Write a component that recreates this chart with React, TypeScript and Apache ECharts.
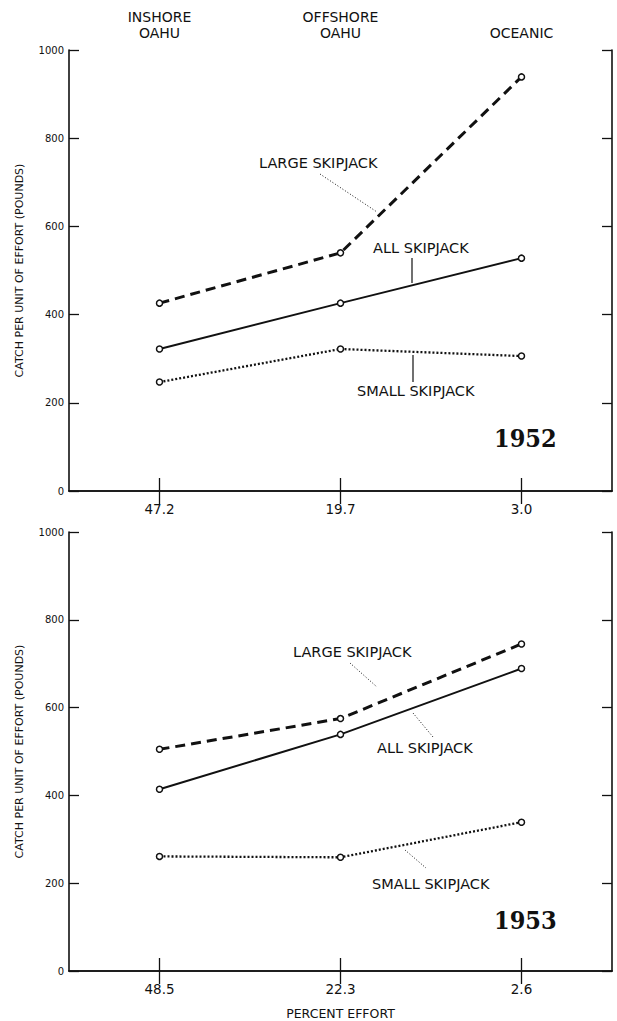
import React, { useEffect, useRef } from "react";
import * as echarts from "echarts";

const regions = ["INSHORE\nOAHU", "OFFSHORE\nOAHU", "OCEANIC"];
const effort1952 = ["47.2", "19.7", "3.0"];
const effort1953 = ["48.5", "22.3", "2.6"];
const large1952 = [426, 540, 939];
const all1952 = [322, 426, 528];
const small1952 = [247, 322, 306];
const large1953 = [505, 575, 745];
const all1953 = [414, 539, 689];
const small1953 = [261, 259, 339];
const yTicks = { min: 0, max: 1000, interval: 200 };

const FONT = "DejaVu Sans";
const INK = "#111";

function yAxis(gridIndex: number, right: boolean) {
  return {
    type: "value",
    gridIndex,
    position: right ? "right" : "left",
    ...yTicks,
    name: right ? "" : "CATCH PER UNIT OF EFFORT (POUNDS)",
    nameLocation: "middle",
    nameGap: 44,
    nameTextStyle: { fontFamily: FONT, fontSize: 11, color: INK },
    axisLine: { show: true, lineStyle: { color: INK, width: 1.6 } },
    axisTick: { show: true, inside: true, length: 10, lineStyle: { color: INK, width: 1.3 } },
    axisLabel: {
      show: !right, fontFamily: FONT, fontSize: 10, color: INK, margin: 5,
      formatter: (v: number) => String(v),
    },
    splitLine: { show: false },
  };
}

function xAxis(gridIndex: number, top: boolean, data: string[], extra: any = {}) {
  return {
    type: "category",
    gridIndex,
    position: top ? "top" : "bottom",
    data,
    boundaryGap: true,
    axisLine: { show: true, lineStyle: { color: INK, width: 1.6 } },
    axisTick: { show: true, inside: true, alignWithLabel: true, length: 13, lineStyle: { color: INK, width: 1.3 } },
    axisLabel: { show: true, fontFamily: FONT, fontSize: top ? 14 : 13.5, color: INK, margin: top ? 9 : 10, lineHeight: 16 },
    splitLine: { show: false },
    ...extra,
  };
}

function line(name: string, data: number[], xi: number, yi: number, kind: "solid" | "dashed" | "dotted") {
  const lineStyle: any = { color: INK };
  if (kind === "solid") { lineStyle.width = 2; lineStyle.type = "solid"; }
  if (kind === "dashed") { lineStyle.width = 3; lineStyle.type = [10, 6]; }
  if (kind === "dotted") { lineStyle.width = 2.3; lineStyle.type = [2, 2]; }
  return {
    type: "line",
    name,
    data,
    xAxisIndex: xi,
    yAxisIndex: yi,
    symbol: "circle",
    symbolSize: 6,
    showSymbol: true,
    lineStyle,
    itemStyle: { color: "#fff", borderColor: INK, borderWidth: 1.5 },
    z: 3,
  };
}

function label(text: string, x: number, y: number) {
  return {
    type: "text",
    x,
    y,
    style: { text, fontFamily: FONT, fontSize: 14.5, fill: INK, textVerticalAlign: "middle" },
  };
}

function leader(x1: number, y1: number, x2: number, y2: number, dotted: boolean) {
  return {
    type: "line",
    shape: { x1, y1, x2, y2 },
    style: { stroke: INK, lineWidth: dotted ? 1 : 1.2, lineDash: dotted ? [1, 2] : null },
  };
}

function year(text: string, y: number) {
  return {
    type: "text", x: 494, y,
    style: {
      text, fontFamily: "DejaVu Serif Condensed", fontWeight: "bold", fontSize: 25,
      fill: INK, textVerticalAlign: "middle",
    },
  };
}

export default function App() {
  const ref = useRef<HTMLDivElement>(null);
  useEffect(() => {
    if (!ref.current) return;
    const chart = echarts.init(ref.current, null, { renderer: "svg" });
    chart.setOption({
      animation: false,
      backgroundColor: "#fff",
      grid: [
        { left: 69, right: 5, top: 50, height: 441 },
        { left: 69, right: 5, top: 532, height: 441 },
      ],
      xAxis: [
        xAxis(0, false, effort1952),
        xAxis(0, true, regions),
        xAxis(1, false, effort1953, {
          name: "PERCENT EFFORT",
          nameLocation: "middle",
          nameGap: 36,
          nameTextStyle: { fontFamily: FONT, fontSize: 12.5, color: INK },
        }),
        xAxis(1, true, effort1953, { axisLabel: { show: false } }),
      ],
      yAxis: [yAxis(0, false), yAxis(0, true), yAxis(1, false), yAxis(1, true)],
      series: [
        line("LARGE SKIPJACK 1952", large1952, 0, 0, "dashed"),
        line("ALL SKIPJACK 1952", all1952, 0, 0, "solid"),
        line("SMALL SKIPJACK 1952", small1952, 0, 0, "dotted"),
        line("LARGE SKIPJACK 1953", large1953, 2, 2, "dashed"),
        line("ALL SKIPJACK 1953", all1953, 2, 2, "solid"),
        line("SMALL SKIPJACK 1953", small1953, 2, 2, "dotted"),
      ],
      graphic: [
        label("LARGE SKIPJACK", 259, 163),
        leader(320, 174, 377, 212, true),
        label("ALL SKIPJACK", 373, 248),
        leader(412, 258, 412, 283, false),
        label("SMALL SKIPJACK", 357, 391),
        leader(413, 355, 413, 382, false),
        year("1952", 438),
        label("LARGE SKIPJACK", 293, 652),
        leader(350, 663, 377, 687, true),
        label("ALL SKIPJACK", 377, 748),
        leader(413, 713, 433, 737, true),
        label("SMALL SKIPJACK", 372, 884),
        leader(405, 850, 426, 868, true),
        year("1953", 920),
      ],
    });
    return () => chart.dispose();
  }, []);
  return <div ref={ref} style={{ position: "fixed", left: 0, top: 0, width: 617, height: 1021 }} />;
}
